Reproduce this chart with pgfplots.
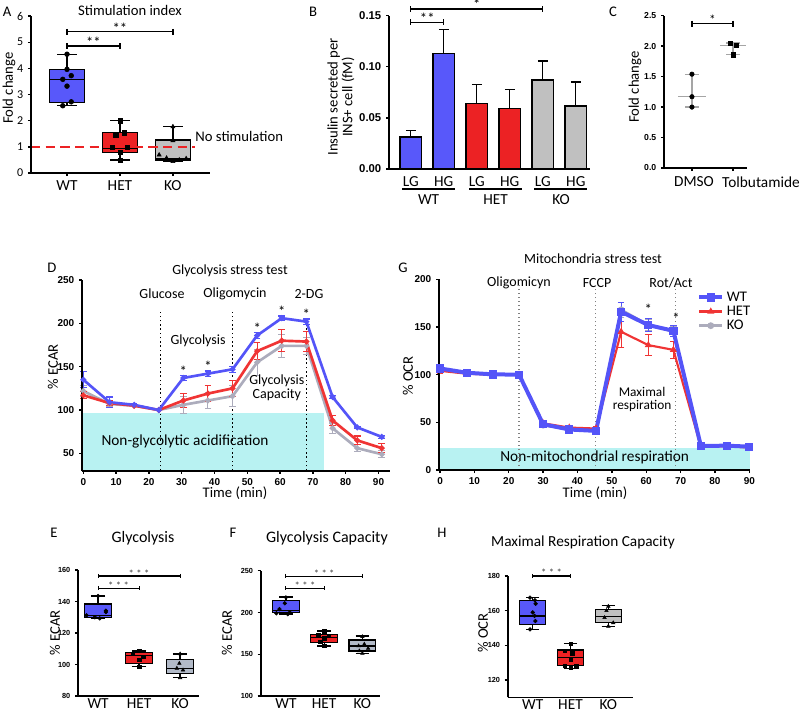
\documentclass[border=0pt]{standalone}
\usepackage{fontspec}
\setmainfont{Carlito}
\newfontfamily\tickfont{Liberation Sans}
\usepackage{pgfplots}
\pgfplotsset{compat=1.18}
\usepgfplotslibrary{statistics}

\newlength{\upx}
\setlength{\upx}{0.75pt}

\definecolor{wtblue}{RGB}{88,88,250}
\definecolor{hetred}{RGB}{236,34,36}
\definecolor{kogray}{RGB}{192,192,192}
\definecolor{kobox}{RGB}{178,186,200}
\definecolor{lineblue}{RGB}{84,84,248}
\definecolor{linered}{RGB}{240,52,52}
\definecolor{linegray}{RGB}{172,172,188}
\definecolor{cyanfill}{RGB}{184,242,242}
\definecolor{sdgray}{RGB}{165,165,165}

\newcommand{\txt}[1]{\fontsize{#1}{#1}\selectfont}

\pgfplotsset{
  panel/.style={scale only axis, anchor=south west, axis lines=left,
    axis line style={-, black, line width=1.2pt}, tick align=outside,
    major tick length=3\upx, tick style={black, line width=1pt},
    boxplot/draw direction=y,
    /pgf/number format/assume math mode=true, clip=false, axis on top,
    every tick label/.append style={font=\txt{7.5}\tickfont\bfseries, text=black}},
  bx/.style={fill=#1, draw=black, line width=1pt, solid, mark=none},
  bracket/.style={black, line width=0.9pt, mark=|, mark size=2.2pt, mark options={solid}, forget plot},
  pts/.style={only marks, black, mark=#1, forget plot},
  sea/.style={line width=#1, error bars/y dir=both, error bars/y explicit,
    error bars/error bar style={line width=0.8pt},
    error bars/error mark options={line width=0.8pt, mark size=2.5pt, rotate=90}},
  barerr/.style={error bars/y dir=plus, error bars/y explicit,
    error bars/error bar style={black, line width=1pt},
    error bars/error mark options={black, line width=1pt, mark size=5\upx, rotate=90}},
}

\begin{document}
\begin{tikzpicture}
\path[use as bounding box] (0,0) rectangle (800\upx,-714\upx);

% ---------------- A
\node[font=\txt{11}] at (7\upx,-12\upx) {A};
\node[font=\txt{11}] at (130\upx,-10\upx) {Stimulation index};
\node[font=\txt{11}, rotate=90] at (9\upx,-88\upx) {Fold change};
\begin{axis}[panel, at={(31\upx,-173\upx)}, width=179\upx, height=157\upx,
  xmin=-0.68, xmax=2.7, ymin=0, ymax=6, ytick={0,...,6}, xtick={0,1,2},
  xticklabels={WT,HET,KO}, axis line style={line width=1.5pt},
  yticklabel style={font=\txt{9}}, xticklabel style={font=\txt{11.5}}]
\addplot[bx=wtblue, boxplot prepared={lower whisker=2.57, lower quartile=2.70,
  median=3.58, upper quartile=3.96, upper whisker=4.54, draw position=0,
  box extend=0.67, whisker extend=0.37}] coordinates {};
\addplot[bx=hetred, boxplot prepared={lower whisker=0.50, lower quartile=0.78,
  median=0.94, upper quartile=1.54, upper whisker=2.0, draw position=1,
  box extend=0.67, whisker extend=0.37}] coordinates {};
\addplot[bx=kogray, boxplot prepared={lower whisker=0.43, lower quartile=0.50,
  median=0.55, upper quartile=1.26, upper whisker=1.77, draw position=2,
  box extend=0.67, whisker extend=0.37}] coordinates {};
\addplot[hetred, line width=2pt, dash pattern=on 7pt off 4pt, forget plot]
  coordinates {(-0.68,1) (2.42,1)};
\addplot[pts=*, mark size=1.8pt] coordinates {(0,4.54) (0,3.96) (0.08,3.72) (-0.08,3.58) (0,3.32) (0.08,2.72) (-0.08,2.57)};
\addplot[pts=square*, mark size=1.6pt] coordinates {(1,2.0) (1.08,1.54) (0.92,1.43) (0.86,0.97) (1.14,0.97) (1,0.78) (1,0.5)};
\addplot[pts=triangle*, mark size=1.8pt] coordinates {(2,1.77) (2,1.24) (1.74,0.69) (1.88,0.57) (2,0.44) (2.12,0.5) (2.25,0.55)};
\addplot[bracket] coordinates {(0,4.85) (1,4.85)};
\addplot[bracket] coordinates {(0,5.4) (2,5.4)};
\node[font=\txt{11}, anchor=south, inner sep=0pt] at (axis cs:0.5,4.78) {**};
\node[font=\txt{11}, anchor=south, inner sep=0pt] at (axis cs:1,5.33) {**};
\node[font=\txt{11}, anchor=west, inner sep=0pt] at (axis cs:2.42,1.38) {No stimulation};
\end{axis}

% ---------------- B
\node[font=\txt{11}] at (313\upx,-12\upx) {B};
\node[font=\txt{11}, rotate=90, align=center] at (341\upx,-97\upx) {Insulin secreted per\\INS+ cell (fM)};
\begin{axis}[panel, at={(389\upx,-169\upx)}, width=201\upx, height=153.3\upx,
  xmin=-0.66, xmax=5.43, ymin=0, ymax=0.15, ytick={0,0.05,0.1,0.15},
  yticklabel style={font=\txt{8.5}\tickfont\bfseries, /pgf/number format/.cd, fixed, fixed zerofill, precision=2},
  xtick={0,...,5}, xticklabels={LG,HG,LG,HG,LG,HG}, xtick style={draw=none},
  xticklabel style={font=\txt{11.5}}, axis line style={line width=1.5pt}]
\addplot[ybar, bar width=21.7\upx, bar shift=0pt, fill=wtblue, draw=black, line width=1pt, barerr]
  coordinates {(0,0.0312) +- (0,0.0062) (1,0.1129) +- (0,0.0234)};
\addplot[ybar, bar width=21.7\upx, bar shift=0pt, fill=hetred, draw=black, line width=1pt, barerr]
  coordinates {(2,0.0644) +- (0,0.0183) (3,0.0592) +- (0,0.0183)};
\addplot[ybar, bar width=21.7\upx, bar shift=0pt, fill=kogray, draw=black, line width=1pt, barerr]
  coordinates {(4,0.0872) +- (0,0.0186) (5,0.0616) +- (0,0.0234)};
\addplot[bracket] coordinates {(0,0.1435) (1,0.1435)};
\addplot[bracket] coordinates {(0,0.1565) (4,0.1565)};
\node[font=\txt{11}, anchor=south, inner sep=0pt] at (axis cs:0.5,0.1425) {**};
\node[font=\txt{11}, anchor=south, inner sep=0pt] at (axis cs:2,0.1555) {*};
\draw[line width=1pt] (axis cs:-0.26,-0.0196) -- (axis cs:1.34,-0.0196);
\draw[line width=1pt] (axis cs:1.77,-0.0196) -- (axis cs:3.37,-0.0196);
\draw[line width=1pt] (axis cs:3.74,-0.0196) -- (axis cs:5.35,-0.0196);
\node[font=\txt{11.5}] at (axis cs:0.54,-0.0295) {WT};
\node[font=\txt{11.5}] at (axis cs:2.57,-0.0295) {HET};
\node[font=\txt{11.5}] at (axis cs:4.55,-0.0295) {KO};
\end{axis}

% ---------------- C
\node[font=\txt{11}] at (613\upx,-12\upx) {C};
\node[font=\txt{11}, rotate=90] at (635\upx,-87\upx) {Fold change};
\node[font=\txt{11.5}] at (694\upx,-182\upx) {DMSO};
\node[font=\txt{11.5}] at (761\upx,-182\upx) {Tolbutamide};
\begin{axis}[panel, at={(664\upx,-168\upx)}, width=83\upx, height=152.3\upx,
  xmin=-0.68, xmax=1.34, ymin=0, ymax=2.5, ytick={0,0.5,...,2.5},
  yticklabel style={font=\txt{6.5}\tickfont\bfseries, /pgf/number format/.cd, fixed, fixed zerofill, precision=1},
  xtick={0,1}, xticklabels={}, axis line style={line width=1pt}]
\addplot[sdgray, line width=1pt, forget plot] coordinates {(-0.34,1.17) (0.34,1.17)};
\addplot[sdgray, line width=1pt, forget plot] coordinates {(0.68,2.01) (1.32,2.01)};
\addplot[draw=none, mark=none, forget plot, error bars/.cd, y dir=both, y explicit,
  error bar style={sdgray, line width=1pt}, error mark options={sdgray, line width=1pt, mark size=7\upx, rotate=90}]
  coordinates {(0,1.265) +- (0,0.265) (1,1.955) +- (0,0.095)};
\addplot[pts=*, mark size=1.7pt] coordinates {(0,1.54) (0,1.17) (0,1.0)};
\addplot[pts=square*, mark size=1.6pt] coordinates {(0.94,2.05) (1.08,2.02) (1.0,1.86)};
\addplot[bracket] coordinates {(0,2.37) (1,2.37)};
\node[font=\txt{10}, anchor=south, inner sep=0pt] at (axis cs:0.5,2.35) {*};
\end{axis}

% ---------------- D
\node[font=\txt{11}] at (52\upx,-268\upx) {D};
\node[font=\txt{10.5}] at (230\upx,-271\upx) {Glycolysis stress test};
\node[font=\txt{10.5}] at (162\upx,-294\upx) {Glucose};
\node[font=\txt{10.5}] at (235\upx,-294\upx) {Oligomycin};
\node[font=\txt{10.5}] at (309\upx,-294\upx) {2-DG};
\node[font=\txt{11}, rotate=90] at (53\upx,-367\upx) {\% ECAR};
\node[font=\txt{11}] at (235\upx,-493\upx) {Time (min)};
\begin{axis}[panel, at={(82\upx,-470.7\upx)}, width=308\upx, height=190.7\upx,
  xmin=-0.4, xmax=93.5, ymin=30, ymax=250, xtick={0,10,...,90}, ytick={50,100,...,250}]
\addplot[fill=cyanfill, draw=none, forget plot] coordinates {(-0.4,30) (-0.4,96) (73.3,96) (73.3,30)} -- cycle;
\node[font=\txt{11.5}] at (axis cs:31,64) {Non-glycolytic acidification};
\addplot[black, line width=1.2pt, dotted, forget plot] coordinates {(23.5,30) (23.5,213)};
\addplot[black, line width=1.2pt, dotted, forget plot] coordinates {(45.5,30) (45.5,213)};
\addplot[black, line width=1.2pt, dotted, forget plot] coordinates {(68.1,30) (68.1,206)};
\addplot[linegray, sea=2pt, mark=*, mark size=1pt] coordinates {
 (0,122) +- (0,6) (8,107) +- (0,3) (15.5,105) +- (0,1) (23,100) +- (0,1)
 (30.5,106) +- (0,10) (38,111) +- (0,9) (45.5,116) +- (0,12)
 (53,155) +- (0,15) (60.5,174) +- (0,13) (68,174) +- (0,10)
 (76,79) +- (0,6) (83.5,56) +- (0,4) (91,49) +- (0,4)};
\addplot[linered, sea=2pt, mark=*, mark size=1pt] coordinates {
 (0,117) +- (0,4) (8,108) +- (0,3) (15.5,105) +- (0,1) (23,100) +- (0,1)
 (30.5,111) +- (0,8) (38,119) +- (0,9) (45.5,125) +- (0,9)
 (53,168) +- (0,10) (60.5,180) +- (0,13) (68,179) +- (0,12)
 (76,88) +- (0,6) (83.5,65) +- (0,5) (91,56) +- (0,5)};
\addplot[lineblue, sea=2pt, mark=*, mark size=1pt] coordinates {
 (0,135) +- (0,9) (8,109) +- (0,6) (15.5,106) +- (0,1.5) (23,100) +- (0,1)
 (30.5,137) +- (0,3) (38,142) +- (0,3) (45.5,147) +- (0,3.5)
 (53,186) +- (0,3) (60.5,206) +- (0,2.5) (68,202) +- (0,3)
 (76,115) +- (0,2) (83.5,80) +- (0,1.5) (91,69) +- (0,1.5)};
\node[font=\txt{10.5}] at (axis cs:35,179.5) {Glycolysis};
\node[font=\txt{10.5}, align=center] at (axis cs:59,126) {Glycolysis\\Capacity};
\node[font=\txt{11}, inner sep=0pt] at (axis cs:30.5,145) {*};
\node[font=\txt{11}, inner sep=0pt] at (axis cs:38,150) {*};
\node[font=\txt{11}, inner sep=0pt] at (axis cs:53,194) {*};
\node[font=\txt{11}, inner sep=0pt] at (axis cs:60.5,214) {*};
\node[font=\txt{11}, inner sep=0pt] at (axis cs:68,210) {*};
\end{axis}

% ---------------- G
\node[font=\txt{11}] at (403\upx,-268\upx) {G};
\node[font=\txt{10.5}] at (593\upx,-259\upx) {Mitochondria stress test};
\node[font=\txt{10.5}] at (519\upx,-283\upx) {Oligomicyn};
\node[font=\txt{10.5}] at (597\upx,-283\upx) {FCCP};
\node[font=\txt{10.5}] at (671\upx,-283\upx) {Rot/Act};
\node[font=\txt{11}, rotate=90] at (408\upx,-376\upx) {\% OCR};
\node[font=\txt{11}] at (595\upx,-493\upx) {Time (min)};
\begin{axis}[panel, at={(439\upx,-470\upx)}, width=311\upx, height=190.7\upx,
  xmin=-0.3, xmax=90.2, ymin=0, ymax=200, xtick={0,10,...,90}, ytick={0,50,...,200},
  reverse legend, legend style={at={(0.83,0.95)}, anchor=north west, draw=none, fill=none,
  font=\txt{11}, row sep=-2pt, inner sep=0pt}, legend cell align=left]
\addplot[fill=cyanfill, draw=none, forget plot] coordinates {(-0.3,0) (-0.3,23) (90.2,23) (90.2,0)} -- cycle;
\node[font=\txt{11.5}] at (axis cs:45,13.5) {Non-mitochondrial respiration};
\addplot[gray, line width=1pt, dotted, forget plot] coordinates {(23,0) (23,196)};
\addplot[gray, line width=1pt, dotted, forget plot] coordinates {(45.3,0) (45.3,196)};
\addplot[gray, line width=1pt, dotted, forget plot] coordinates {(68.5,0) (68.5,196)};
\addplot[linegray, sea=2pt, mark=*, mark size=1.5pt] coordinates {
 (0,105) +- (0,2) (7.8,101.5) +- (0,1) (15.5,100.2) +- (0,1) (23,100) +- (0,1)
 (30,47) +- (0,2) (37.6,43) +- (0,2) (45.4,41.5) +- (0,2)
 (52.7,168) +- (0,8) (60.6,152) +- (0,6) (67.9,145.5) +- (0,5)
 (75.9,25) +- (0,1) (83.6,25.5) +- (0,1) (90,24.5) +- (0,1)};
\addlegendentry{KO}
\addplot[linered, sea=1.6pt, mark=triangle*, mark size=1.5pt] coordinates {
 (0,104) +- (0,3) (7.8,101) +- (0,1) (15.5,100) +- (0,1) (23,100) +- (0,1)
 (30,49) +- (0,2) (37.6,44.5) +- (0,2) (45.4,43.5) +- (0,2)
 (52.7,145) +- (0,17) (60.6,131) +- (0,11) (67.9,126) +- (0,9)
 (75.9,24.5) +- (0,1) (83.6,25) +- (0,1) (90,23.5) +- (0,1)};
\addlegendentry{HET}
\addplot[lineblue, sea=3pt, mark=square*, mark size=1.6pt] coordinates {
 (0,106.5) +- (0,2) (7.8,102) +- (0,1.5) (15.5,100.3) +- (0,1) (23,100) +- (0,1)
 (30,48) +- (0,2) (37.6,42.5) +- (0,2) (45.4,41) +- (0,2.5)
 (52.7,166) +- (0,10) (60.6,152) +- (0,7) (67.9,146) +- (0,6)
 (75.9,25.3) +- (0,1.5) (83.6,25.5) +- (0,1.5) (90,24.5) +- (0,1)};
\addlegendentry{WT}
\node[font=\txt{10}, align=center] at (axis cs:58.8,74) {Maximal\\respiration};
\node[font=\txt{11}, inner sep=0pt] at (axis cs:60.6,169) {*};
\node[font=\txt{11}, inner sep=0pt] at (axis cs:68.7,159) {*};
\end{axis}

% ---------------- E
\node[font=\txt{11}] at (54\upx,-533\upx) {E};
\node[font=\txt{12}] at (143\upx,-538\upx) {Glycolysis};
\node[font=\txt{11}, rotate=90] at (55\upx,-633\upx) {\% ECAR};
\begin{axis}[panel, at={(78\upx,-696\upx)}, width=121\upx, height=126\upx,
  xmin=-0.49, xmax=2.46, ymin=80, ymax=160, ytick={80,100,...,160},
  yticklabel style={font=\txt{5.5}\tickfont\bfseries}, xtick={0,1,2},
  xticklabels={WT,HET,KO}, xtick style={draw=none}, xticklabel style={font=\txt{11.5}, yshift=5\upx}]
\addplot[bx=wtblue, boxplot prepared={lower whisker=129.3, lower quartile=130,
  median=131, upper quartile=138.4, upper whisker=143.5, draw position=0,
  box extend=0.66, whisker extend=0.35}] coordinates {};
\addplot[bx=hetred, boxplot prepared={lower whisker=98.6, lower quartile=100.7,
  median=105.8, upper quartile=107.5, upper whisker=108.6, draw position=1,
  box extend=0.66, whisker extend=0.35}] coordinates {};
\addplot[bx=kobox, boxplot prepared={lower whisker=91.6, lower quartile=94.4,
  median=97.6, upper quartile=103.3, upper whisker=106.7, draw position=2,
  box extend=0.66, whisker extend=0.35}] coordinates {};
\addplot[pts=*, mark size=1.4pt] coordinates {(0,143.5) (0.19,133.3) (-0.28,131.2) (-0.08,130) (0.04,129.3) (0.19,134.2)};
\addplot[pts=square*, mark size=1.3pt] coordinates {(1,108.6) (0.85,106.7) (1.1,105) (1,102.9) (1,98.6)};
\addplot[pts=triangle*, mark size=1.5pt] coordinates {(2,106.7) (1.98,100.7) (1.92,97.6) (2.07,96.5) (2,91.6)};
\addplot[bracket, line width=0.8pt, mark size=1.6pt] coordinates {(0,148.4) (1,148.4)};
\addplot[bracket, line width=0.8pt, mark size=1.6pt] coordinates {(0,156.2) (2,156.2)};
\node[font=\txt{8}, text=black!75, anchor=south, inner sep=0pt] at (axis cs:0.5,147.5) {* * *};
\node[font=\txt{8}, text=black!75, anchor=south, inner sep=0pt] at (axis cs:1,155.3) {* * *};
\end{axis}

% ---------------- F
\node[font=\txt{11}] at (233\upx,-533\upx) {F};
\node[font=\txt{12}] at (327\upx,-538\upx) {Glycolysis Capacity};
\node[font=\txt{11}, rotate=90] at (227\upx,-633\upx) {\% ECAR};
\begin{axis}[panel, at={(260.7\upx,-696\upx)}, width=119.3\upx, height=125.3\upx,
  xmin=-0.66, xmax=2.46, ymin=100, ymax=250, ytick={100,150,...,250},
  yticklabel style={font=\txt{5.5}\tickfont\bfseries}, xtick={0,1,2},
  xticklabels={WT,HET,KO}, xtick style={draw=none}, xticklabel style={font=\txt{11.5}, yshift=5\upx}]
\addplot[bx=wtblue, boxplot prepared={lower whisker=198, lower quartile=200,
  median=202, upper quartile=214, upper whisker=218.5, draw position=0,
  box extend=0.7, whisker extend=0.35}] coordinates {};
\addplot[bx=hetred, boxplot prepared={lower whisker=160, lower quartile=164,
  median=170, upper quartile=174, upper whisker=178, draw position=1,
  box extend=0.7, whisker extend=0.35}] coordinates {};
\addplot[bx=kobox, boxplot prepared={lower whisker=151, lower quartile=154,
  median=160, upper quartile=167, upper whisker=171.8, draw position=2,
  box extend=0.7, whisker extend=0.35}] coordinates {};
\addplot[pts=*, mark size=1.4pt] coordinates {(0,218) (-0.03,211) (-0.17,204) (0.1,200) (-0.25,199) (0.05,198)};
\addplot[pts=square*, mark size=1.3pt] coordinates {(1,177.5) (0.85,173) (1.12,172) (1,169) (0.9,165) (1,160)};
\addplot[pts=triangle*, mark size=1.5pt] coordinates {(2,171) (2.05,162) (1.9,160) (2.15,157) (1.92,154) (2,151)};
\addplot[bracket, line width=0.8pt, mark size=1.6pt] coordinates {(0,229) (1,229)};
\addplot[bracket, line width=0.8pt, mark size=1.6pt] coordinates {(0,243.6) (2,243.6)};
\node[font=\txt{8}, text=black!75, anchor=south, inner sep=0pt] at (axis cs:0.5,227.5) {* * *};
\node[font=\txt{8}, text=black!75, anchor=south, inner sep=0pt] at (axis cs:1,242) {* * *};
\end{axis}

% ---------------- H
\node[font=\txt{11}] at (442\upx,-533\upx) {H};
\node[font=\txt{11.5}] at (583\upx,-542\upx) {Maximal Respiration Capacity};
\node[font=\txt{11}, rotate=90] at (483\upx,-633\upx) {\% OCR};
\begin{axis}[panel, at={(507.7\upx,-697.3\upx)}, width=125.6\upx, height=121.3\upx,
  xmin=-0.66, xmax=2.66, ymin=110, ymax=180, ytick={120,140,...,180},
  yticklabel style={font=\txt{5.5}\tickfont\bfseries}, xtick={0,1,2},
  xticklabels={WT,HET,KO}, xtick style={draw=none}, xticklabel style={font=\txt{11.5}, yshift=5\upx}]
\addplot[bx=wtblue, boxplot prepared={lower whisker=149.2, lower quartile=152.1,
  median=156.9, upper quartile=165.8, upper whisker=167.5, draw position=0,
  box extend=0.69, whisker extend=0.35}] coordinates {};
\addplot[bx=hetred, boxplot prepared={lower whisker=126.7, lower quartile=128.3,
  median=133.1, upper quartile=137.3, upper whisker=141.2, draw position=1,
  box extend=0.69, whisker extend=0.35}] coordinates {};
\addplot[bx=kogray, boxplot prepared={lower whisker=150.8, lower quartile=153.3,
  median=156.5, upper quartile=160.8, upper whisker=162.9, draw position=2,
  box extend=0.69, whisker extend=0.35}] coordinates {};
\addplot[pts=*, mark size=1.4pt] coordinates {(-0.07,167.5) (0.06,166) (0.08,164) (0,159) (0.05,157) (0.07,154) (-0.07,149.2)};
\addplot[pts=square*, mark size=1.3pt] coordinates {(1,141) (0.85,137) (1.05,135.5) (1,132) (0.85,128.3) (1,127) (1.15,128)};
\addplot[pts=triangle*, mark size=1.5pt] coordinates {(2,162.5) (1.95,160) (1.9,156) (2.13,153) (2,151)};
\addplot[bracket, line width=0.8pt, mark size=1.6pt] coordinates {(0,180) (1,180)};
\node[font=\txt{8}, text=black!75, anchor=south, inner sep=0pt] at (axis cs:0.5,179.3) {* * *};
\end{axis}
\end{tikzpicture}
\end{document}
